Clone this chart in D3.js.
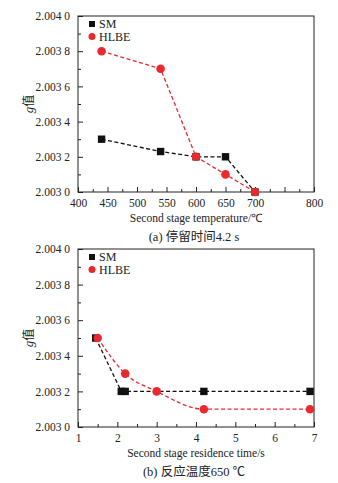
<!DOCTYPE html>
<html>
<head>
<meta charset="utf-8">
<script src="https://cdn.jsdelivr.net/npm/d3@7"></script>
<style>
  body { margin: 0; background: #fff; }
  .frame { fill: none; stroke: #222; stroke-width: 1; }
  .tick line { stroke: #222; }
</style>
</head>
<body>
<svg id="chart" width="338" height="483"></svg>
<script>
// panel (a): second stage temperature
const tempX = [440, 540, 600, 650, 700]
const tempSM = [2.00330, 2.00323, 2.00320, 2.00320, 2.00300]
const tempHLBE = [2.00380, 2.00370, 2.00320, 2.00310, 2.00300]
const tempTicks = [400, 450, 500, 550, 600, 650, 700, 750, 800]
const tempTickLabels = ["400", "450", "500", "550", "600", "650", "700", "", "800"]

// panel (b): residence time
const timeSMX = [1.45, 2.1, 2.2, 4.2, 6.9]
const timeSM = [2.00350, 2.00320, 2.00320, 2.00320, 2.00320]
const timeHLBEX = [1.5, 2.2, 3.0, 4.2, 6.9]
const timeHLBE = [2.00350, 2.00330, 2.00320, 2.00310, 2.00310]
const timeTicks = [1, 2, 3, 4, 5, 6, 7]

const gTicks = [2.0030, 2.0032, 2.0034, 2.0036, 2.0038, 2.0040]
const gTickLabels = ["2.003 0", "2.003 2", "2.003 4", "2.003 6", "2.003 8", "2.004 0"]

const RED = "#e82a2e"
const BLACK = "#111"
const SERIF = "'Liberation Serif', serif"

const svg = d3.select("#chart")

function panel(opts) {
  const left = 78, right = 314
  const x = d3.scaleLinear().domain(opts.xDomain).range([left, right])
  const y = d3.scaleLinear().domain([2.0030, 2.0040]).range([opts.bottom, opts.top])
  const g = svg.append("g")

  // minor ticks
  g.append("g")
    .attr("transform", `translate(0,${opts.bottom})`)
    .call(d3.axisBottom(x).tickValues(opts.xMinor).tickSize(-3).tickFormat(""))
    .call(s => s.select(".domain").remove())
  g.append("g")
    .attr("transform", `translate(${left},0)`)
    .call(d3.axisLeft(y).tickValues(d3.range(2.0031, 2.0040, 0.0002)).tickSize(-3).tickFormat(""))
    .call(s => s.select(".domain").remove())

  // major ticks
  g.append("g")
    .attr("transform", `translate(0,${opts.bottom})`)
    .call(d3.axisBottom(x).tickValues(opts.xTicks).tickSize(-5).tickPadding(7)
      .tickFormat((d, i) => opts.xLabels ? opts.xLabels[i] : d))
    .call(s => s.select(".domain").remove())
  g.append("g")
    .attr("transform", `translate(${left},0)`)
    .call(d3.axisLeft(y).tickValues(gTicks).tickSize(-5).tickPadding(8)
      .tickFormat((d, i) => gTickLabels[i]))
    .call(s => s.select(".domain").remove())
  g.selectAll(".tick text")
    .style("font-family", SERIF).style("font-size", "11.5px").attr("fill", "#222")

  g.append("rect").attr("class", "frame")
    .attr("x", left).attr("y", opts.top)
    .attr("width", right - left).attr("height", opts.bottom - opts.top)

  // y label
  const yl = g.append("text")
    .attr("transform", `translate(33,${(opts.top + opts.bottom) / 2}) rotate(-90)`)
    .attr("text-anchor", "middle").attr("fill", "#222")
    .style("font-family", SERIF).style("font-size", "13px")
  yl.append("tspan").attr("font-style", "italic").text("g")
  yl.append("tspan").style("font-family", "'Noto Sans CJK SC'").style("font-size", "12px").text("值")

  g.append("text")
    .attr("x", (left + right) / 2).attr("y", opts.bottom + 30)
    .attr("text-anchor", "middle").attr("fill", "#222")
    .style("font-family", SERIF).style("font-size", "11.5px")
    .text(opts.xTitle)
  g.append("text")
    .attr("x", (left + right) / 2 - 2).attr("y", opts.bottom + 49)
    .attr("text-anchor", "middle").attr("fill", "#222")
    .style("font-family", "'Liberation Serif', 'Noto Sans CJK SC', serif").style("font-size", "12.5px")
    .text(opts.caption)

  // series
  const series = [
    { xs: opts.smX, ys: opts.sm, color: BLACK, curve: d3.curveLinear, shape: "square" },
    { xs: opts.hlX, ys: opts.hl, color: RED, curve: opts.hlCurve, shape: "circle" }
  ]
  series.forEach(s => {
    const pts = s.xs.map((v, i) => [x(v), y(s.ys[i])])
    g.append("path")
      .attr("d", d3.line().curve(s.curve)(pts))
      .attr("fill", "none").attr("stroke", s.color)
      .attr("stroke-width", 1.3).attr("stroke-dasharray", "4,2.5")
  })
  series.forEach(s => {
    s.xs.forEach((v, i) => {
      if (s.shape === "square") {
        g.append("rect").attr("x", x(v) - 3.7).attr("y", y(s.ys[i]) - 3.7)
          .attr("width", 7.4).attr("height", 7.4).attr("fill", s.color)
      } else {
        g.append("circle").attr("cx", x(v)).attr("cy", y(s.ys[i])).attr("r", 4.3)
          .attr("fill", s.color)
      }
    })
  })

  // legend
  const ly = opts.top + 8
  g.append("rect").attr("x", 89).attr("y", ly - 3).attr("width", 6).attr("height", 6).attr("fill", BLACK)
  g.append("circle").attr("cx", 92).attr("cy", ly + 12.5).attr("r", 3.5).attr("fill", RED)
  g.selectAll(".leg").data(["SM", "HLBE"]).join("text")
    .attr("x", 99).attr("y", (d, i) => ly + 4 + i * 12.5).attr("fill", "#222")
    .style("font-family", SERIF).style("font-size", "12px")
    .text(d => d)
}

panel({
  top: 16, bottom: 192,
  xDomain: [400, 800],
  xTicks: tempTicks, xLabels: tempTickLabels,
  xMinor: d3.range(425, 800, 50),
  xTitle: "Second stage temperature/℃",
  caption: "(a) 停留时间4.2 s",
  smX: tempX, sm: tempSM, hlX: tempX, hl: tempHLBE,
  hlCurve: d3.curveLinear
})

panel({
  top: 249, bottom: 427,
  xDomain: [1, 7],
  xTicks: timeTicks,
  xMinor: d3.range(1.5, 7, 1),
  xTitle: "Second stage residence time/s",
  caption: "(b) 反应温度650 ℃",
  smX: timeSMX, sm: timeSM, hlX: timeHLBEX, hl: timeHLBE,
  hlCurve: d3.curveMonotoneX
})
</script>
</body>
</html>
